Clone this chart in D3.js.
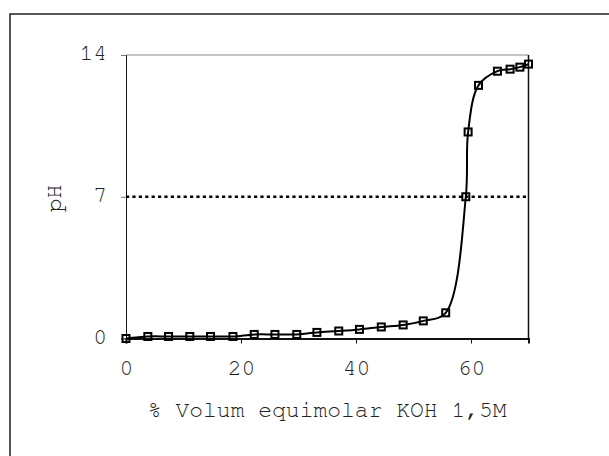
<!DOCTYPE html>
<html>
<head>
<meta charset="utf-8">
<script src="https://cdn.jsdelivr.net/npm/d3@7"></script>
<style>
  body { margin: 0; background: #fff; }
</style>
</head>
<body>
<svg width="609" height="456"></svg>
<script>
// volume of KOH added (%) and measured pH
const volum = [0, 3.8, 7.4, 11.1, 14.7, 18.6, 22.3, 25.9, 29.7, 33.2, 37.0, 40.6, 44.4, 48.2, 51.7, 55.6, 59.1, 59.5, 61.3, 64.6, 66.8, 68.5, 70]
const pH = [0, 0.1, 0.1, 0.1, 0.1, 0.1, 0.2, 0.2, 0.2, 0.3, 0.37, 0.45, 0.57, 0.67, 0.87, 1.27, 7.0, 10.2, 12.5, 13.2, 13.3, 13.4, 13.55]
const xTicks = [0, 20, 40, 60]
const yTicks = [0, 7, 14]
const neutralPH = 7

const dim = {width: 609, height: 456, margin: {top: 55, right: 81, bottom: 117, left: 126}}
const font = 'FreeMono, "Courier New", monospace'
const svg = d3.select('svg')

// outer chart frame (runs off the right and bottom edges)
svg.append('rect')
    .attr('x', 10).attr('y', 14)
    .attr('width', 620).attr('height', 460)
    .attr('fill', 'none').attr('stroke', '#222').attr('stroke-width', 1.5)

const x = d3.scaleLinear()
    .domain([0, 70])
    .range([dim.margin.left, dim.width - dim.margin.right + 0.5])
const y = d3.scaleLinear()
    .domain([0, 14])
    .range([dim.height - dim.margin.bottom - 0.5, dim.margin.top])

// plot area: grey top, black right
svg.append('line')
    .attr('x1', x(0)).attr('x2', x(70))
    .attr('y1', y(14)).attr('y2', y(14))
    .attr('stroke', '#888').attr('stroke-width', 1)
svg.append('line')
    .attr('x1', x(70)).attr('x2', x(70))
    .attr('y1', y(14)).attr('y2', y(0))
    .attr('stroke', '#111').attr('stroke-width', 1.5)

const yAxis = d3.axisLeft(y).tickValues(yTicks).tickSize(5).tickPadding(14)
svg.append('g')
    .attr('transform', `translate(${x(0)}, 0)`)
    .call(yAxis)
    .call(g => g.selectAll('.tick line').attr('stroke', '#777'))
    .call(g => g.select('.domain').attr('stroke', '#111'))
    .call(g => g.selectAll('text').attr('dy', '0.2em'))

const xAxis = d3.axisBottom(x).tickValues(xTicks).tickSize(5)
svg.append('g')
    .attr('transform', `translate(0, ${y(0)})`)
    .call(xAxis)
    .call(g => g.select('.domain').attr('stroke', '#111').attr('stroke-width', 2))
    .call(g => g.selectAll('.tick line').attr('stroke', '#111'))
    .call(g => g.selectAll('text').attr('y', 36).attr('dy', null))

svg.selectAll('.tick text')
    .style('font-family', font)
    .style('font-size', '23px')
    .attr('fill', '#222')

// neutral pH reference line
svg.append('line')
    .attr('x1', x(0)).attr('x2', x(70))
    .attr('y1', y(neutralPH)).attr('y2', y(neutralPH))
    .attr('stroke', '#000').attr('stroke-width', 2.5)
    .attr('stroke-dasharray', '3.2,3.2')

const points = volum.map((v, i) => [v, pH[i]])
const line = d3.line()
    .x(d => x(d[0]))
    .y(d => y(d[1]))
    .curve(d3.curveCatmullRom.alpha(0.5))

svg.append('path')
    .datum(points)
    .attr('d', line)
    .attr('fill', 'none')
    .attr('stroke', '#000')
    .attr('stroke-width', 2)

svg.append('g').selectAll('rect')
    .data(points)
    .join('rect')
    .attr('x', d => x(d[0]) - 3.5)
    .attr('y', d => y(d[1]) - 3.5)
    .attr('width', 7).attr('height', 7)
    .attr('fill', 'none')
    .attr('stroke', '#000')
    .attr('stroke-width', 2)

svg.append('text')
    .attr('x', (x(0) + x(70)) / 2)
    .attr('y', 417)
    .attr('text-anchor', 'middle')
    .style('font-family', font)
    .style('font-size', '23px')
    .attr('fill', '#222')
    .text('% Volum equimolar KOH 1,5M')

svg.append('text')
    .attr('transform', 'translate(61, 198.5) rotate(-90)')
    .attr('text-anchor', 'middle')
    .style('font-family', font)
    .style('font-size', '23px')
    .attr('fill', '#222')
    .text('pH')
</script>
</body>
</html>
